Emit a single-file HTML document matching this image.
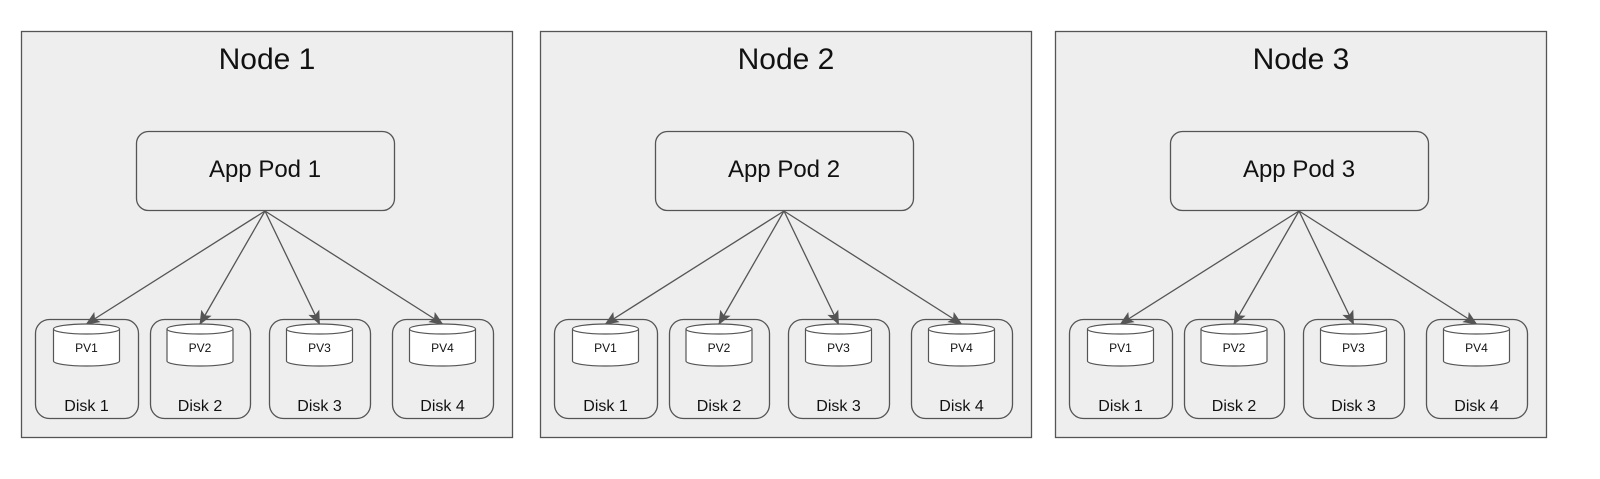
<!DOCTYPE html>
<html><head><meta charset="utf-8"><style>html,body{margin:0;padding:0;background:#fff}svg{display:block}</style></head>
<body>
<svg width="1600" height="479" viewBox="0 0 1600 479" xmlns="http://www.w3.org/2000/svg" font-family="Liberation Sans, Arial, sans-serif">
<defs>
<marker id="ah" markerWidth="14" markerHeight="12" refX="13" refY="6" orient="auto" markerUnits="userSpaceOnUse">
<path d="M0,0 L14,6 L0,12 L3,6 z" fill="#555"/>
</marker>
</defs>
</svg>
<script>
const svg=document.querySelector('svg');
const NS='http://www.w3.org/2000/svg';
function el(t,a,txt){const e=document.createElementNS(NS,t);for(const k in a)e.setAttribute(k,a[k]);if(txt)e.textContent=txt;svg.appendChild(e);return e;}
const shifts=[0,519,1034];
const disks=[[35,138],[150,250],[269,370],[392,493]];
shifts.forEach((s,i)=>{
 el('rect',{x:21.5+s,y:31.5,width:491,height:406,fill:'#eeeeee',stroke:'#555','stroke-width':1.3});
 el('text',{x:267+s,y:69,'font-size':30,'text-anchor':'middle',fill:'#111'},'Node '+(i+1));
 el('rect',{x:136.5+s,y:131.5,width:258,height:79,rx:12,fill:'#eeeeee',stroke:'#555','stroke-width':1.3});
 el('text',{x:265+s,y:177,'font-size':24,'text-anchor':'middle',fill:'#111'},'App Pod '+(i+1));
 disks.forEach((d,j)=>{
  const x1=d[0]+s,x2=d[1]+s,cx=(x1+x2)/2;
  el('rect',{x:x1+0.5,y:319.5,width:x2-x1,height:99,rx:14,fill:'#eeeeee',stroke:'#555','stroke-width':1.3});
  el('text',{x:cx,y:411,'font-size':16,'text-anchor':'middle',fill:'#111'},'Disk '+(j+1));
  const cw=66,cl=cx-cw/2,ct=324,ch=42,ry=5;
  el('path',{d:`M${cl},${ct+ry} L${cl},${ct+ch-ry} A${cw/2},${ry} 0 0 0 ${cl+cw},${ct+ch-ry} L${cl+cw},${ct+ry} A${cw/2},${ry} 0 0 0 ${cl},${ct+ry} A${cw/2},${ry} 0 0 0 ${cl+cw},${ct+ry}`,fill:'#ffffff',stroke:'#555','stroke-width':1.2});
  el('text',{x:cx,y:352,'font-size':12,'text-anchor':'middle',fill:'#111'},'PV'+(j+1));
  el('line',{x1:265+s,y1:211,x2:cx,y2:324,stroke:'#555','stroke-width':1.3,'marker-end':'url(#ah)'});
 });
});
</script>
</body></html>
